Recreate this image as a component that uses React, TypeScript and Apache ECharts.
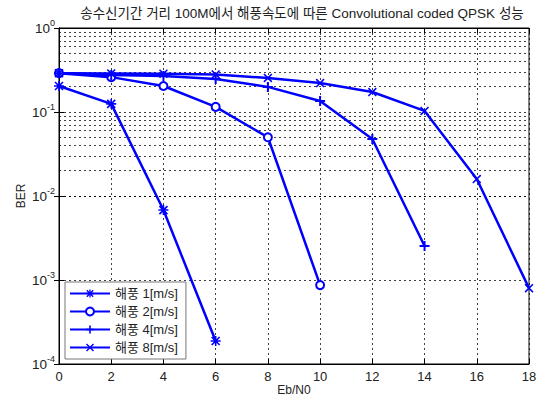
import React, { useEffect, useRef } from "react";
import * as echarts from "echarts";

const titleText = "송수신기간 거리 100M에서 해풍속도에 따른 Convolutional coded QPSK 성능";
const seriesNames = ["해풍 1[m/s]", "해풍 2[m/s]", "해풍 4[m/s]", "해풍 8[m/s]"];
const ebn0 = [0, 2, 4, 6, 8, 10, 12, 14, 16, 18];
const ber1 = [0.204, 0.125, 0.0068, 0.000188];
const ber2 = [0.29, 0.26, 0.204, 0.115, 0.05, 0.00087];
const ber4 = [0.29, 0.276, 0.268, 0.247, 0.199, 0.135, 0.0477, 0.00254];
const ber8 = [0.29, 0.288, 0.286, 0.28, 0.254, 0.221, 0.173, 0.103, 0.0159, 0.0008];
const decadeStarts = [1e-4, 1e-3, 1e-2, 1e-1];
const minorMultipliers = [2, 3, 4, 5, 6, 7, 8, 9];

const FONT = '"Liberation Sans", Arial, "Noto Sans CJK KR", sans-serif';
const BLUE = "#0000ff";

const SYM_PLUS = "path://M4,0L6,0L6,10L4,10ZM0,4L10,4L10,6L0,6Z";
const SYM_X =
  "path://M1.57,0.43L9.57,8.43L8.43,9.57L0.43,1.57ZM8.43,0.43L9.57,1.57L1.57,9.57L0.43,8.43Z";
const SYM_STAR =
  "path://M4.2,0L5.8,0L5.8,10L4.2,10ZM0,4.2L10,4.2L10,5.8L0,5.8ZM1.57,0.43L9.57,8.43L8.43,9.57L0.43,1.57ZM8.43,0.43L9.57,1.57L1.57,9.57L0.43,8.43Z";

function pairs(vals: number[]) {
  return vals.map((v, i) => [ebn0[i], v]);
}

export default function App() {
  const ref = useRef<HTMLDivElement>(null);
  useEffect(() => {
    if (!ref.current) return;
    const chart = echarts.init(ref.current, undefined, { renderer: "svg" });
    const minorLines: { yAxis: number }[] = [];
    decadeStarts.forEach((d) => minorMultipliers.forEach((m) => minorLines.push({ yAxis: d * m })));

    const lineBase = (name: string, data: number[], symbol: string, size: number, extra: any = {}) => ({
      name,
      type: "line",
      data: pairs(data),
      symbol,
      symbolSize: size,
      showSymbol: true,
      lineStyle: { color: BLUE, width: 2.5 },
      itemStyle: { color: BLUE, borderColor: BLUE, borderWidth: 0 },
      z: 3,
      ...extra,
    });

    chart.setOption({
      animation: false,
      backgroundColor: "#fff",
      textStyle: { fontFamily: FONT },
      graphic: [
        {
          type: "text",
          x: 302,
          y: 13,
          style: {
            text: titleText,
            font: `13.5px ${FONT}`,
            fill: "#222",
            align: "center",
            verticalAlign: "middle",
          },
        },
      ],
      grid: {
        left: 59,
        right: 13,
        top: 28,
        bottom: 36,
        outerBoundsMode: "none",
        containLabel: false,
        show: true,
        borderColor: "#000",
        borderWidth: 1,
        backgroundColor: "#fff",
      },
      legend: {
        data: seriesNames,
        orient: "vertical",
        left: 65,
        top: 282,
        backgroundColor: "#fff",
        borderColor: "#777",
        borderWidth: 1,
        borderRadius: 0,
        padding: [5, 8, 5, 4],
        itemWidth: 40,
        itemHeight: 10,
        itemGap: 5,
        textStyle: { fontSize: 13, color: "#222", fontFamily: FONT },
      },
      xAxis: [
        {
          type: "value",
          min: 0,
          max: 18,
          interval: 2,
          name: "Eb/N0",
          nameLocation: "middle",
          nameGap: 19,
          nameMoveOverlap: false,
          nameTextStyle: { fontSize: 12, lineHeight: 13, color: "#222" },
          axisLine: { lineStyle: { color: "#000" } },
          axisTick: { inside: true, length: 5, lineStyle: { color: "#000" } },
          axisLabel: { fontSize: 13, color: "#222", margin: 6 },
          splitLine: { show: true, lineStyle: { color: "#000", type: [2, 3], width: 1, opacity: 0.75 } },
        },
        {
          type: "value",
          position: "top",
          min: 0,
          max: 18,
          interval: 2,
          axisLine: { lineStyle: { color: "#000" } },
          axisTick: { inside: true, length: 5, lineStyle: { color: "#000" } },
          axisLabel: { show: false },
          splitLine: { show: false },
        },
      ],
      yAxis: [
        {
          type: "log",
          logBase: 10,
          min: 1e-4,
          max: 1,
          name: "BER",
          nameLocation: "middle",
          nameGap: 32,
          nameMoveOverlap: false,
          nameTextStyle: { fontSize: 12, color: "#222" },
          axisLine: { lineStyle: { color: "#000" } },
          axisTick: { inside: true, length: 5, lineStyle: { color: "#000" } },
          axisLabel: {
            margin: 4,
            formatter: (v: number) => `{b|10}{s|${Math.round(Math.log10(v))}}`,
            rich: {
              b: { fontSize: 13.5, color: "#222", fontFamily: FONT },
              s: { fontSize: 9, color: "#222", fontFamily: FONT, padding: [0, 0, 10, 0] },
            },
          },
          splitLine: { show: true, lineStyle: { color: "#000", type: [2, 3], width: 1, opacity: 0.75 } },
        },
        {
          type: "log",
          logBase: 10,
          min: 1e-4,
          max: 1,
          position: "right",
          axisLine: { lineStyle: { color: "#000" } },
          axisTick: { inside: true, length: 5, lineStyle: { color: "#000" } },
          axisLabel: { show: false },
          splitLine: { show: false },
        },
      ],
      series: [
        lineBase(seriesNames[0], ber1, SYM_STAR, 10, {
          markLine: {
            silent: true,
            symbol: "none",
            label: { show: false },
            lineStyle: { color: "#000", type: [2, 3], width: 1, opacity: 0.75 },
            data: minorLines,
            z: 1,
          },
        }),
        lineBase(seriesNames[1], ber2, "emptyCircle", 8, {
          itemStyle: { color: BLUE, borderColor: BLUE, borderWidth: 2 },
        }),
        lineBase(seriesNames[2], ber4, SYM_PLUS, 10),
        lineBase(seriesNames[3], ber8, SYM_X, 9),
      ],
    });
    return () => chart.dispose();
  }, []);
  return (
    <div
      ref={ref}
      style={{ position: "fixed", left: 0, top: 0, width: 542, height: 400 }}
    />
  );
}
